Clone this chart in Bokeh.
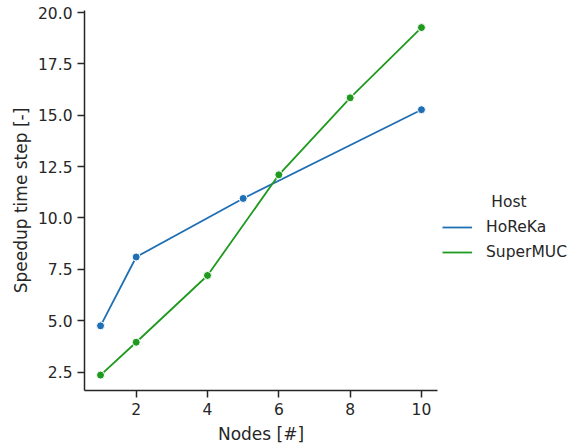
from bokeh.plotting import figure
from bokeh.models import Legend, LegendItem, Range1d, FixedTicker, NumeralTickFormatter
from bokeh.embed import file_html
from bokeh.resources import INLINE

hosts = ["HoReKa", "SuperMUC"]
horeka_nodes = [1, 2, 5, 10]
horeka_speedup = [4.75, 8.1, 10.95, 15.27]
supermuc_nodes = [1, 2, 4, 6, 8, 10]
supermuc_speedup = [2.35, 3.95, 7.2, 12.1, 15.85, 19.27]
x_ticks = [2, 4, 6, 8, 10]
y_ticks = [2.5, 5.0, 7.5, 10.0, 12.5, 15.0, 17.5, 20.0]
colors = ["#1f6fb5", "#1f9a1f"]
legend_title = "Host"

FONT = "DejaVu Sans"
TXT = "#262626"

p = figure(frame_width=353, frame_height=380, output_backend="svg", toolbar_location=None,
           x_range=Range1d(0.55, 10.45), y_range=Range1d(1.6, 20.1),
           min_border_left=84, min_border_right=10, min_border_top=10, min_border_bottom=50)
p.outline_line_color = None
p.grid.visible = False
p.background_fill_color = "white"
p.border_fill_color = "white"

r1 = p.line(horeka_nodes, horeka_speedup, line_color=colors[0], line_width=1.8)
s1 = p.scatter(horeka_nodes, horeka_speedup, size=8, fill_color=colors[0], line_color="white", line_width=1)
r2 = p.line(supermuc_nodes, supermuc_speedup, line_color=colors[1], line_width=1.8)
s2 = p.scatter(supermuc_nodes, supermuc_speedup, size=8, fill_color=colors[1], line_color="white", line_width=1)

for ax in (p.xaxis[0], p.yaxis[0]):
    ax.axis_line_color = TXT
    ax.axis_line_width = 1.5
    ax.major_tick_line_color = TXT
    ax.major_tick_line_width = 1.5
    ax.major_tick_out = 7
    ax.major_tick_in = 0
    ax.minor_tick_line_color = None
    ax.major_label_text_font = FONT
    ax.major_label_text_font_size = "15.5px"
    ax.major_label_text_color = TXT
    ax.axis_label_text_font = FONT
    ax.axis_label_text_font_size = "17px"
    ax.axis_label_text_font_style = "normal"
    ax.axis_label_text_color = TXT

p.xaxis.ticker = FixedTicker(ticks=x_ticks)
p.yaxis.ticker = FixedTicker(ticks=y_ticks)
p.yaxis.formatter = NumeralTickFormatter(format="0.0")
p.xaxis.axis_label = "Nodes [#]"
p.yaxis.axis_label = "Speedup time step [-]"
p.xaxis.axis_label_standoff = 6
p.yaxis.axis_label_standoff = 4
p.xaxis.major_label_standoff = 5
p.yaxis.major_label_standoff = 5

legend = Legend(items=[LegendItem(label=hosts[0], renderers=[r1]),
                       LegendItem(label=hosts[1], renderers=[r2])],
                location=(5, 128), title="\u00a0" * 10 + legend_title,
                border_line_color=None, background_fill_alpha=0,
                label_text_font=FONT, label_text_font_size="15.5px", label_text_color=TXT,
                title_text_font=FONT, title_text_font_size="15.5px", title_text_color=TXT,
                title_text_font_style="normal", title_standoff=6,
                glyph_width=30, glyph_height=20, label_height=20, spacing=5,
                label_standoff=14, padding=4, margin=0)
p.add_layout(legend, "right")

open("out.html", "w").write(file_html(p, INLINE))
